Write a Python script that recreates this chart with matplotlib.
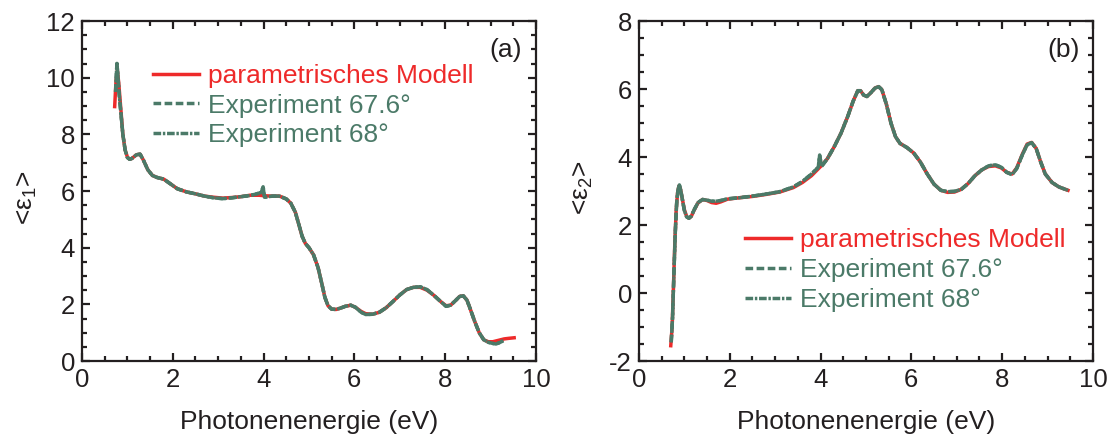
import matplotlib
matplotlib.use("Agg")
import matplotlib.pyplot as plt
from matplotlib.ticker import MultipleLocator

plt.rcParams['font.family'] = ['Liberation Sans', 'DejaVu Sans']
plt.rcParams['mathtext.fontset'] = 'custom'
plt.rcParams['mathtext.rm'] = 'Liberation Sans'
plt.rcParams['mathtext.it'] = 'Liberation Sans'
plt.rcParams['axes.unicode_minus'] = False

RED = '#ee2a2a'
GREEN = '#4b7a68'
INK = '#231f20'

# ---- eps1 (panel a) ----
e1_model_x = [0.72, 0.75, 0.78, 0.81, 0.85, 0.90, 0.95, 1.00, 1.05, 1.10, 1.20, 1.28, 1.35, 1.45,
              1.55, 1.65, 1.80, 1.95, 2.10, 2.30, 2.50, 2.70, 2.90, 3.10, 3.30, 3.50, 3.70, 3.90,
              4.05, 4.20, 4.35, 4.50, 4.60, 4.70, 4.78, 4.85, 4.92, 5.00, 5.10, 5.20, 5.28, 5.35,
              5.42, 5.50, 5.60, 5.70, 5.80, 5.92, 6.02, 6.15, 6.25, 6.40, 6.55, 6.70, 6.85, 7.00,
              7.15, 7.30, 7.45, 7.60, 7.75, 7.90, 8.02, 8.12, 8.22, 8.32, 8.40, 8.48, 8.55, 8.65,
              8.75, 8.85, 8.95, 9.05, 9.15, 9.30, 9.40, 9.52]
e1_model_y = [8.98, 9.90, 10.25, 9.80, 9.00, 8.00, 7.45, 7.20, 7.12, 7.15, 7.28, 7.30, 7.10, 6.75,
              6.55, 6.48, 6.42, 6.25, 6.08, 5.97, 5.90, 5.82, 5.78, 5.75, 5.77, 5.80, 5.85, 5.85,
              5.83, 5.82, 5.82, 5.72, 5.57, 5.25, 4.80, 4.40, 4.15, 4.00, 3.75, 3.30, 2.75, 2.25,
              1.95, 1.83, 1.82, 1.87, 1.93, 1.97, 1.90, 1.75, 1.67, 1.65, 1.72, 1.88, 2.10, 2.33,
              2.52, 2.60, 2.60, 2.50, 2.32, 2.10, 1.95, 1.97, 2.12, 2.28, 2.30, 2.15, 1.85, 1.40,
              1.00, 0.75, 0.68, 0.68, 0.72, 0.78, 0.80, 0.82]

e1_exp_x = [0.74, 0.76, 0.77, 0.79, 0.82, 0.86, 0.90, 0.95, 1.00, 1.05, 1.10, 1.20, 1.28, 1.35,
            1.45, 1.55, 1.65, 1.80, 1.95, 2.10, 2.30, 2.50, 2.70, 2.90, 3.10, 3.30, 3.50, 3.70,
            3.85, 3.95, 3.99, 4.02, 4.10, 4.20, 4.35, 4.50, 4.60, 4.70, 4.78, 4.85, 4.92, 5.00,
            5.10, 5.20, 5.28, 5.35, 5.42, 5.50, 5.60, 5.70, 5.80, 5.92, 6.02, 6.15, 6.25, 6.40,
            6.55, 6.70, 6.85, 7.00, 7.15, 7.30, 7.45, 7.60, 7.75, 7.90, 8.02, 8.12, 8.22, 8.32,
            8.40, 8.48, 8.55, 8.65, 8.75, 8.85, 8.95, 9.05, 9.12, 9.20, 9.28]
e1_exp_y = [9.50, 10.20, 10.50, 10.10, 9.40, 8.70, 8.00, 7.45, 7.18, 7.12, 7.15, 7.28, 7.30, 7.10,
            6.75, 6.55, 6.48, 6.42, 6.25, 6.08, 5.97, 5.90, 5.82, 5.76, 5.73, 5.76, 5.80, 5.84,
            5.90, 5.95, 6.15, 5.78, 5.80, 5.82, 5.82, 5.72, 5.57, 5.25, 4.80, 4.40, 4.15, 4.00,
            3.75, 3.30, 2.75, 2.25, 1.95, 1.83, 1.82, 1.87, 1.93, 1.97, 1.90, 1.72, 1.64, 1.65,
            1.72, 1.88, 2.10, 2.33, 2.52, 2.60, 2.62, 2.52, 2.32, 2.10, 1.93, 1.97, 2.12, 2.28,
            2.30, 2.15, 1.85, 1.40, 1.00, 0.75, 0.66, 0.62, 0.60, 0.65, 0.72]

# ---- eps2 (panel b) ----
e2_model_x = [0.70, 0.73, 0.76, 0.79, 0.82, 0.85, 0.88, 0.91, 0.95, 1.00, 1.05, 1.10, 1.15, 1.22,
              1.30, 1.40, 1.50, 1.60, 1.70, 1.80, 1.95, 2.20, 2.50, 2.80, 3.10, 3.40, 3.60, 3.80,
              4.00, 4.15, 4.30, 4.45, 4.60, 4.72, 4.82, 4.88, 4.95, 5.02, 5.10, 5.20, 5.28, 5.35,
              5.45, 5.55, 5.65, 5.75, 5.90, 6.05, 6.20, 6.35, 6.50, 6.65, 6.80, 6.95, 7.10, 7.25,
              7.40, 7.55, 7.70, 7.85, 7.98, 8.10, 8.22, 8.32, 8.45, 8.55, 8.65, 8.75, 8.85, 8.95,
              9.10, 9.25, 9.45]
e2_model_y = [-1.55, -1.00, 0.20, 1.50, 2.45, 2.95, 3.15, 3.08, 2.80, 2.45, 2.25, 2.20, 2.25, 2.45,
              2.65, 2.75, 2.72, 2.66, 2.64, 2.68, 2.76, 2.80, 2.84, 2.90, 2.97, 3.10, 3.25, 3.45,
              3.72, 3.95, 4.30, 4.70, 5.20, 5.65, 5.95, 5.95, 5.82, 5.78, 5.88, 6.03, 6.07, 5.98,
              5.55, 5.00, 4.60, 4.40, 4.28, 4.12, 3.85, 3.50, 3.20, 3.02, 2.96, 2.97, 3.05, 3.22,
              3.45, 3.62, 3.72, 3.74, 3.68, 3.55, 3.50, 3.68, 4.10, 4.38, 4.43, 4.25, 3.85, 3.50,
              3.25, 3.12, 3.02]

e2_exp_x = [0.71, 0.74, 0.77, 0.80, 0.83, 0.86, 0.89, 0.92, 0.96, 1.00, 1.05, 1.10, 1.15, 1.22,
            1.30, 1.40, 1.50, 1.60, 1.70, 1.80, 1.95, 2.20, 2.50, 2.80, 3.10, 3.40, 3.60, 3.80,
            3.95, 3.98, 4.02, 4.15, 4.30, 4.45, 4.60, 4.72, 4.82, 4.88, 4.95, 5.02, 5.10, 5.20,
            5.28, 5.35, 5.45, 5.55, 5.65, 5.75, 5.90, 6.05, 6.20, 6.35, 6.50, 6.65, 6.80, 6.95,
            7.10, 7.25, 7.40, 7.55, 7.70, 7.85, 7.98, 8.10, 8.22, 8.32, 8.45, 8.55, 8.65, 8.75,
            8.85, 8.95, 9.10, 9.25, 9.45]
e2_exp_y = [-1.45, -0.70, 0.60, 1.80, 2.65, 3.05, 3.18, 3.02, 2.72, 2.42, 2.24, 2.20, 2.26, 2.46,
            2.66, 2.75, 2.73, 2.70, 2.70, 2.72, 2.77, 2.80, 2.85, 2.91, 2.98, 3.12, 3.28, 3.50,
            3.70, 4.06, 3.72, 3.95, 4.30, 4.70, 5.20, 5.65, 5.95, 5.95, 5.82, 5.78, 5.88, 6.03,
            6.07, 5.98, 5.55, 5.00, 4.60, 4.40, 4.28, 4.12, 3.85, 3.50, 3.20, 3.02, 2.98, 2.99,
            3.05, 3.22, 3.45, 3.62, 3.74, 3.77, 3.70, 3.55, 3.48, 3.66, 4.08, 4.36, 4.42, 4.25,
            3.85, 3.50, 3.25, 3.12, 3.02]

labels = ['parametrisches Modell', 'Experiment 67.6°', 'Experiment 68°']

fig = plt.figure(figsize=(11.14, 4.37), dpi=100)
ax1 = fig.add_axes([0.0736, 0.1739, 0.4075, 0.778])
ax2 = fig.add_axes([0.5736, 0.1739, 0.4075, 0.778])

FS = 19      # labels / legend
TFS = 18.5   # tick labels


def draw(ax, mx, my, ex, ey):
    ax.plot(mx, my, color=RED, lw=2.5, label=labels[0], zorder=2)
    ax.plot(ex, ey, color=GREEN, lw=2.5, dashes=(2.2, 1.0), label=labels[1], zorder=3)
    ax.plot(ex, ey, color=GREEN, lw=2.5, dashes=(2.2, 0.5, 0.7, 0.5), label=labels[2], zorder=3)


draw(ax1, e1_model_x, e1_model_y, e1_exp_x, e1_exp_y)
draw(ax2, e2_model_x, e2_model_y, e2_exp_x, e2_exp_y)

ax1.set_ylim(0, 12)
ax2.set_ylim(-2, 8)
for ax in (ax1, ax2):
    ax.set_xlim(0, 10)
    ax.xaxis.set_major_locator(MultipleLocator(2))
    ax.xaxis.set_minor_locator(MultipleLocator(0.5))
    ax.yaxis.set_major_locator(MultipleLocator(2))
    ax.yaxis.set_minor_locator(MultipleLocator(0.5))
    ax.tick_params(which='both', direction='in', top=True, right=True, width=1.6,
                   color=INK, labelsize=TFS, labelcolor=INK, pad=5)
    ax.tick_params(which='major', length=6)
    ax.tick_params(which='minor', length=3.6)
    for s in ax.spines.values():
        s.set_linewidth(1.6)
        s.set_color(INK)
    ax.set_xlabel('Photonenenergie (eV)', fontsize=FS, color=INK)
    ax.xaxis.set_label_coords(0.5, -0.18)
    ax.xaxis.label.set_va('center')

ax1.set_ylabel('<ε$_{1}$>', fontsize=FS, color=INK)
ax1.yaxis.set_label_coords(-0.121, 0.48)
ax1.yaxis.label.set_va('center')
ax2.set_ylabel('<ε$_{2}$>', fontsize=FS, color=INK)
ax2.yaxis.set_label_coords(-0.123, 0.51)
ax2.yaxis.label.set_va('center')

ax1.text(0.968, 0.915, '(a)', transform=ax1.transAxes, ha='right', va='center',
         fontsize=FS, color=INK)
ax2.text(0.971, 0.915, '(b)', transform=ax2.transAxes, ha='right', va='center',
         fontsize=FS, color=INK)

leg_kw = dict(frameon=False, fontsize=FS, handlelength=1.75, handletextpad=0.35,
              labelspacing=0.22, borderpad=0, borderaxespad=0, labelcolor='linecolor')
ax1.legend(loc='upper left', bbox_to_anchor=(0.156, 0.874), **leg_kw)
ax2.legend(loc='upper left', bbox_to_anchor=(0.233, 0.39), **leg_kw)

fig.savefig('out.png', dpi=100)
